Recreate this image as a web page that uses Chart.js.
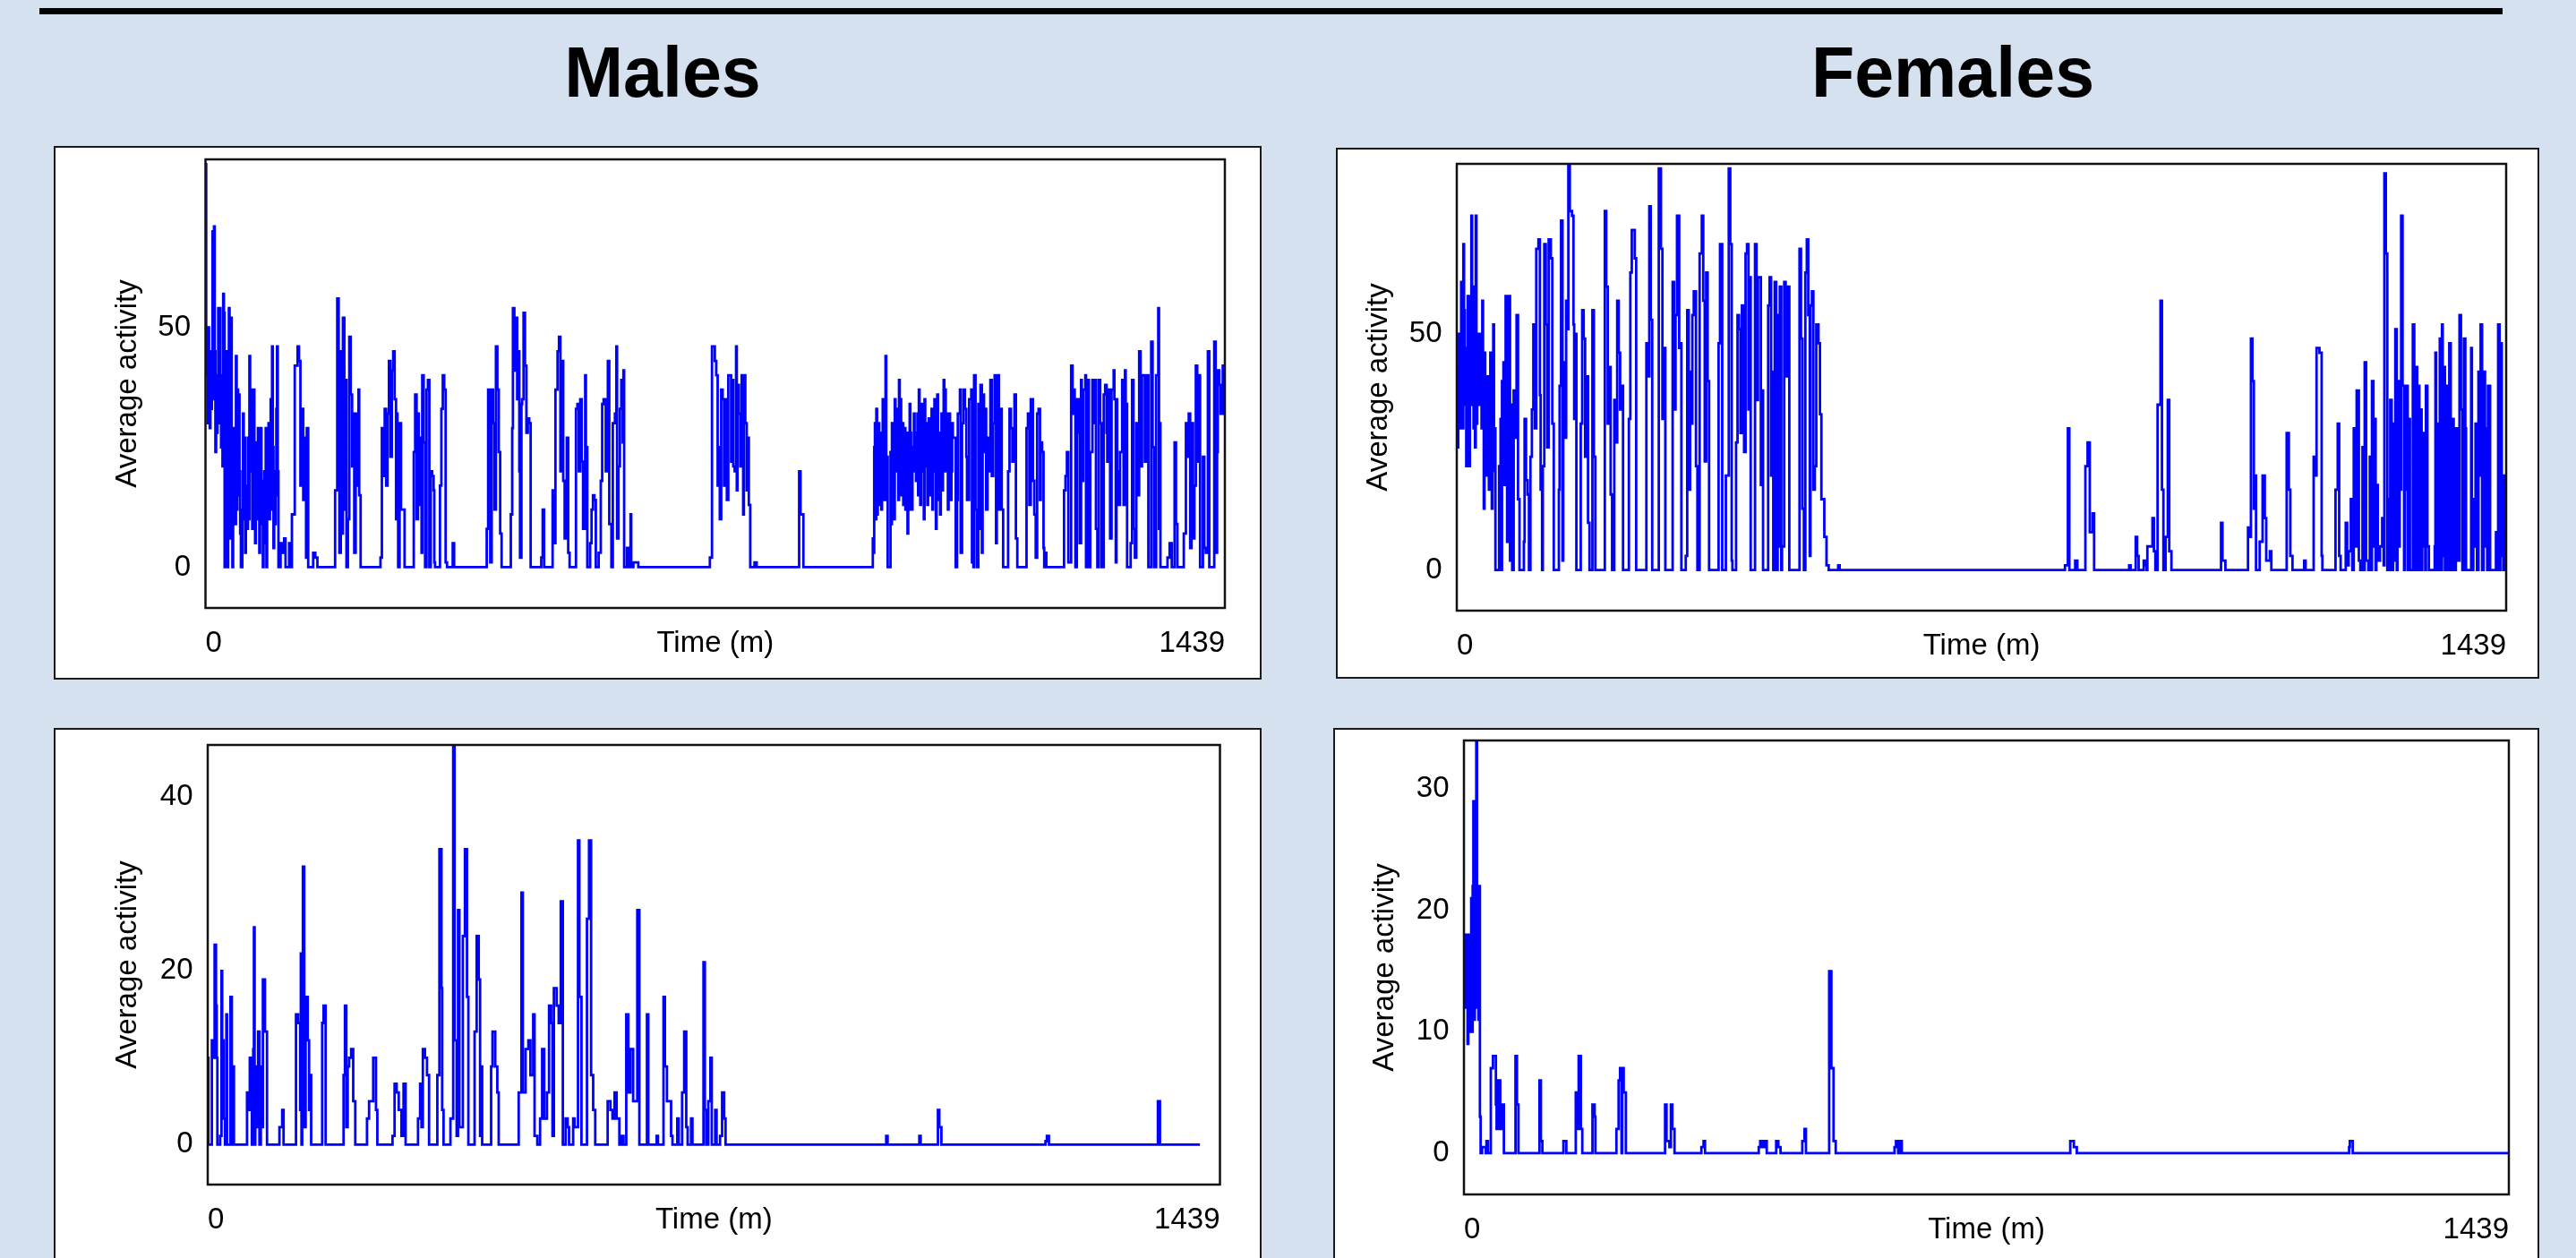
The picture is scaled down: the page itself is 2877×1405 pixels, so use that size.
<!DOCTYPE html>
<html>
<head>
<meta charset="utf-8">
<title>Average activity</title>
<script src="https://cdn.jsdelivr.net/npm/chart.js@4.4.0/dist/chart.umd.min.js"></script>
<style>
  body {
    margin: 0;
    width: 2877px;
    height: 1405px;
    overflow: hidden;
    position: relative;
    background: #d5e1ef;
    font-family: 'Liberation Sans', Arial, sans-serif;
  }
  .rule {
    position: absolute;
    left: 44px;
    top: 9px;
    width: 2751px;
    height: 7px;
    background: #000;
  }
  .heading {
    position: absolute;
    top: 41px;
    font-size: 79px;
    line-height: 79px;
    font-weight: bold;
    color: #000;
    transform: translateX(-50%);
    white-space: nowrap;
  }
  .panel {
    position: absolute;
    box-sizing: border-box;
    background: #fff;
    border: 2px solid #1a1a1a;
  }
  .panel canvas {
    position: absolute;
    left: 0;
    top: 0;
  }
</style>
</head>
<body>
<div class="rule"></div>
<div class="heading" style="left:740px">Males</div>
<div class="heading" style="left:2181px">Females</div>
<div class="panel" id="p-tl"><canvas id="c-tl"></canvas></div>
<div class="panel" id="p-tr"><canvas id="c-tr"></canvas></div>
<div class="panel" id="p-bl"><canvas id="c-bl"></canvas></div>
<div class="panel" id="p-br"><canvas id="c-br"></canvas></div>

<script>
// axis texts
const xLabels = ['0', 'Time (m)', '1439'];
const yTitle = 'Average activity';

// [minute, average activity] steps
const maleDay = [
  [0,84],[1,45],[2,40],[3,30],[4,50],[5,38],[6,29],[7,45],[8,33],[9,40],[10,70],[11,35],[12,71],[13,45],
  [14,24],[15,40],[16,28],[17,30],[18,54],[19,30],[20,54],[21,35],[22,25],[23,40],[24,21],[25,57],[26,53],
  [27,0],[28,20],[29,45],[30,25],[31,0],[32,30],[33,54],[34,20],[35,6],[36,52],[37,15],[38,0],[39,20],
  [40,29],[41,15],[42,9],[43,44],[44,12],[45,37],[46,15],[47,36],[48,20],[49,7],[50,0],[52,12],[53,32],
  [54,10],[55,27],[56,3],[57,15],[58,17],[59,8],[60,27],[61,10],[62,44],[63,20],[64,37],[65,30],[66,8],
  [67,15],[68,37],[69,20],[70,5],[71,25],[72,26],[73,10],[74,29],[75,20],[76,3],[77,12],[78,29],[79,18],
  [80,9],[81,0],[82,10],[83,20],[84,5],[85,29],[86,0],[87,15],[88,23],[89,30],[90,10],[91,20],[92,35],
  [93,12],[94,46],[95,25],[96,4],[97,20],[98,9],[99,15],[100,33],[101,46],[102,20],[103,0],
  [106,5],[109,3],[111,6],[113,0],[118,5],[120,0],[122,11],[126,42],[130,46],[132,43],[134,17],[136,33],
  [138,14],[140,27],[142,2],[143,29],[145,0],[152,3],[155,2],[158,0],
  [183,16],[186,56],[188,43],[189,3],[191,45],[192,7],[194,52],[196,12],[197,39],[199,0],[201,10],[203,48],
  [205,36],[207,21],[208,32],[210,3],[212,32],[214,17],[216,37],[217,15],[219,0],
  [247,2],[249,29],[251,19],[253,33],[255,17],[257,32],[259,43],[261,23],[263,41],[265,45],[267,35],[269,10],
  [270,32],[271,25],[272,0],[274,30],[276,12],[278,12],[281,0],
  [294,24],[296,36],[298,10],[300,32],[301,13],[303,27],[305,3],[306,40],[308,26],[310,0],[312,37],[314,39],
  [316,0],[318,20],[320,19],[322,16],[323,1],[324,0],[331,17],[333,33],[335,40],[337,37],[339,1],[341,0],
  [349,5],[351,0],
  [397,8],[399,37],[401,31],[402,1],[404,37],[406,30],[408,12],[410,46],[412,37],[414,24],[416,7],[418,0],
  [431,11],[433,29],[434,54],[436,41],[438,52],[440,35],[441,45],[443,20],[444,2],[446,34],[447,35],[449,53],
  [451,42],[453,28],[455,31],[457,30],[459,0],
  [474,2],[476,12],[478,0],[490,16],[492,5],[494,37],[497,45],[499,48],[501,20],[503,43],[505,18],[507,6],
  [510,27],[512,3],[514,0],[523,33],[525,34],[527,20],[529,35],[531,22],[533,8],[536,40],[537,25],[539,0],
  [543,5],[545,12],[547,15],[549,14],[551,0],[555,3],[558,18],[560,34],[562,35],[565,20],[568,43],[570,9],
  [573,0],[575,30],[578,32],[580,46],[581,6],[583,21],[585,33],[587,39],[589,26],[590,41],[591,0],[595,4],
  [598,0],[600,11],[601,0],[604,1],[609,1],[611,0],
  [712,2],[715,46],[719,43],[721,40],[723,17],[724,25],[726,10],[728,37],[730,35],[732,17],[734,35],[736,14],
  [738,40],[740,40],[742,22],[743,39],[745,21],[747,20],[749,46],[750,16],[751,38],[753,32],[755,21],[757,40],
  [759,11],[760,40],[762,30],[764,16],[766,27],[767,13],[769,0],[775,1],[778,0],
  [838,20],[840,11],[844,0],
  [942,6],[943,3],[944,25],[945,30],[946,10],[947,33],[948,11],[949,18],[950,30],[951,13],[952,28],[953,20],
  [954,12],[955,28],[956,35],[957,14],[958,20],[959,30],[960,44],[961,14],[962,23],[963,0],[967,24],[968,9],
  [969,30],[970,20],[971,19],[972,10],[973,35],[974,20],[975,26],[976,33],[977,24],[978,14],[979,39],
  [980,22],[981,35],[982,15],[983,28],[984,30],[985,13],[986,18],[987,29],[988,12],[989,22],[990,28],
  [991,7],[992,20],[993,12],[994,34],[995,28],[996,18],[997,12],[998,25],[999,20],[1000,32],[1001,26],
  [1002,28],[1003,18],[1004,22],[1005,32],[1006,15],[1007,37],[1008,28],[1009,13],[1010,20],[1011,34],
  [1012,28],[1013,20],[1014,10],[1015,35],[1016,28],[1017,21],[1018,30],[1019,13],[1020,20],[1021,31],
  [1022,28],[1023,15],[1024,20],[1025,33],[1026,12],[1027,25],[1028,20],[1029,35],[1030,30],[1031,8],
  [1032,20],[1033,36],[1034,14],[1035,28],[1036,24],[1037,11],[1038,20],[1039,32],[1040,16],[1041,28],
  [1042,39],[1043,20],[1044,37],[1045,30],[1046,20],[1047,32],[1048,12],[1049,25],[1050,32],[1051,22],
  [1052,14],[1053,20],[1054,30],[1055,27],[1059,0],
  [1061,14],[1062,32],[1065,37],[1066,3],[1068,30],[1070,37],[1072,33],[1074,23],[1075,14],[1078,35],
  [1081,37],[1082,1],[1084,0],[1085,40],[1087,12],[1089,0],[1091,34],[1092,8],[1094,38],[1096,3],[1097,36],
  [1099,24],[1101,33],[1102,12],[1104,27],[1106,20],[1108,39],[1110,19],[1112,30],[1114,40],[1116,5],
  [1117,33],[1119,40],[1120,12],[1122,33],[1124,12],[1126,0],[1133,20],[1135,33],[1137,29],[1139,22],
  [1142,36],[1144,6],[1146,0],[1159,29],[1161,32],[1163,13],[1165,35],[1168,18],[1170,11],[1172,2],
  [1174,32],[1176,33],[1178,14],[1179,26],[1181,24],[1183,4],[1184,0],[1185,3],[1187,0],
  [1212,16],[1214,19],[1216,24],[1218,1],[1222,42],[1224,32],[1225,37],[1227,32],[1228,0],[1230,35],
  [1233,28],[1234,5],[1236,39],[1237,18],[1239,37],[1242,40],[1243,0],[1245,39],[1247,0],[1249,24],
  [1252,39],[1253,30],[1255,39],[1257,8],[1259,0],[1261,39],[1263,30],[1265,0],[1268,36],[1270,38],
  [1272,28],[1273,22],[1275,37],[1277,6],[1279,37],[1282,41],[1283,35],[1285,1],[1286,35],[1287,20],
  [1289,13],[1291,24],[1294,39],[1296,13],[1298,41],[1299,34],[1301,0],[1306,5],[1308,39],[1310,8],
  [1312,2],[1314,30],[1316,15],[1318,45],[1320,21],[1322,40],[1324,40],[1326,22],[1328,40],[1331,0],
  [1335,47],[1337,25],[1339,0],[1342,40],[1345,54],[1346,8],[1347,30],[1348,0],[1358,2],[1361,5],[1364,0],
  [1368,26],[1370,9],[1372,0],[1381,7],[1384,30],[1386,23],[1388,32],[1390,4],[1392,30],[1394,6],[1396,17],
  [1398,42],[1400,22],[1402,40],[1404,0],[1408,23],[1410,4],[1412,3],[1415,45],[1417,0],[1422,0],[1424,47],
  [1426,3],[1428,24],[1429,41],[1431,38],[1433,32],[1436,42],[1438,32],[1439,40]
];

const femaleDay = [
  [0,43],[1,26],[2,34],[3,50],[4,43],[5,30],[6,61],[7,41],[8,30],[9,69],[10,55],[11,35],[12,47],[13,22],
  [14,40],[15,58],[16,30],[17,22],[18,58],[19,35],[20,75],[21,46],[22,60],[23,30],[24,45],[25,26],[26,75],
  [27,31],[28,45],[29,50],[30,35],[31,36],[32,45],[33,50],[34,30],[35,57],[36,35],[37,13],[38,46],[39,25],
  [40,31],[41,20],[42,41],[43,32],[44,17],[45,30],[46,46],[47,25],[48,13],[49,30],[50,52],[51,21],[52,30],
  [53,0],[58,22],[60,32],[61,0],[62,40],[64,44],[65,18],[67,58],[69,6],[71,58],[73,2],[75,35],[76,0],
  [78,38],[80,28],[82,54],[84,15],[86,0],[92,6],[93,32],[95,19],[97,16],[99,0],[101,24],[103,34],[105,52],
  [107,30],[109,68],[112,70],[114,37],[115,17],[117,0],[118,22],[120,69],[122,52],[124,26],[126,70],
  [129,66],[131,31],[133,0],[140,17],[141,39],[143,74],[145,2],[146,44],[148,28],[150,57],[151,51],
  [153,86],[155,76],[158,75],[160,52],[161,32],[163,50],[164,0],[170,31],[172,55],[174,49],[176,24],
  [178,41],[180,10],[182,0],[186,55],[188,24],[190,0],[203,76],[205,60],[207,31],[209,43],[211,16],[213,0],
  [216,36],[218,27],[220,57],[222,46],[224,34],[226,39],[228,0],[236,32],[238,63],[240,72],[244,66],
  [246,0],[260,48],[262,41],[264,77],[266,53],[268,0],[277,85],[280,68],[282,32],[284,47],[286,0],[296,61],
  [298,34],[300,54],[302,75],[305,47],[307,48],[308,0],[314,3],[316,55],[318,17],[320,42],[322,31],[323,54],
  [325,59],[328,22],[330,0],[333,67],[336,75],[338,57],[340,23],[342,63],[344,40],[346,0],[359,48],[361,69],
  [364,0],[369,20],[373,85],[375,69],[377,2],[378,0],[383,27],[385,54],[387,51],[389,29],[391,56],[394,25],
  [396,67],[398,69],[400,34],[401,62],[403,0],[409,69],[411,36],[413,62],[415,62],[417,18],[419,38],
  [420,0],[427,56],[429,62],[431,20],[432,42],[434,0],[436,61],[438,0],[440,54],[442,5],[443,60],[445,0],
  [446,5],[449,61],[451,41],[453,60],[456,0],[470,68],[472,49],[474,13],[476,0],[478,63],[480,70],[482,54],
  [484,3],[485,56],[487,59],[489,17],[491,22],[493,52],[496,48],[498,33],[500,15],[504,7],[507,1],[510,0],
  [523,1],[525,0],
  [834,1],[838,30],[840,0],[848,2],[851,0],[862,22],[865,27],[868,8],[872,12],[874,0],[922,1],[924,0],
  [931,7],[933,3],[935,0],[942,2],[944,1],[946,0],[947,5],[950,5],[954,11],[956,4],[958,0],[961,35],[965,57],
  [967,17],[969,0],[972,7],[975,36],[977,4],[980,0],[1048,10],[1050,2],[1054,0],[1085,9],[1088,7],[1089,49],
  [1091,40],[1093,13],[1094,20],[1096,0],[1101,6],[1105,20],[1108,11],[1110,2],[1115,4],[1117,0],[1138,29],
  [1141,17],[1143,3],[1146,0],[1162,2],[1164,0],[1175,24],[1177,20],[1179,47],[1183,46],[1186,3],[1187,0],
  [1205,17],[1208,31],[1210,3],[1212,0],[1219,10],[1221,1],[1223,4],[1226,15],[1228,0],[1230,30],[1232,5],
  [1234,38],[1237,2],[1239,0],[1242,26],[1244,0],[1245,44],[1247,2],[1250,0],[1252,24],[1254,0],[1255,40],
  [1257,5],[1258,32],[1260,0],[1261,18],[1263,2],[1266,5],[1269,11],[1271,1],[1272,84],[1274,67],[1276,0],
  [1277,15],[1279,0],[1280,36],[1282,0],[1284,31],[1286,2],[1287,51],[1289,0],[1290,40],[1292,5],[1293,17],
  [1295,75],[1297,39],[1299,0],[1300,17],[1302,39],[1304,0],[1305,32],[1307,0],[1311,52],[1313,0],[1315,43],
  [1317,0],[1318,39],[1320,0],[1321,34],[1323,0],[1324,5],[1326,29],[1328,0],[1329,39],[1331,5],[1333,0],
  [1341,5],[1342,46],[1343,0],[1345,31],[1346,0],[1348,49],[1349,0],[1351,52],[1352,3],[1354,43],[1355,0],
  [1357,39],[1358,0],[1360,5],[1361,48],[1363,0],[1365,32],[1367,0],[1370,30],[1372,2],[1375,54],[1377,34],
  [1379,0],[1381,49],[1383,30],[1384,0],[1391,47],[1392,0],[1394,15],[1395,5],[1397,31],[1399,0],[1401,42],
  [1402,20],[1404,52],[1406,0],[1408,42],[1410,30],[1411,5],[1413,0],[1414,39],[1417,0],[1425,8],[1427,0],
  [1428,52],[1430,0],[1431,48],[1433,3],[1435,0],[1436,20],[1438,0],[1439,20]
];

const maleNight = [
  [0,10],[1,0],[6,12],[8,10],[10,23],[12,16],[13,10],[14,0],[18,1],[20,20],[21,12],[23,3],[25,0],[27,15],
  [28,0],[33,17],[35,0],[36,9],[38,0],[57,6],[59,4],[61,10],[64,0],[66,11],[67,25],[68,0],[69,9],[71,2],
  [73,13],[75,0],[77,9],[79,2],[80,19],[83,13],[86,0],[104,2],[108,4],[110,0],[128,15],[131,14],[134,4],
  [135,22],[136,0],[137,2],[138,32],[140,2],[142,17],[145,12],[147,4],[149,8],[150,0],[166,14],[168,16],
  [171,0],[197,8],[199,16],[201,2],[203,9],[205,10],[208,11],[211,5],[214,0],[231,3],[234,5],[237,5],
  [240,10],[244,4],[246,0],[268,1],[271,7],[274,6],[277,4],[281,1],[284,7],[287,0],[305,3],[308,7],[310,2],
  [312,11],[315,10],[318,8],[321,0],[333,8],[336,34],[339,18],[340,4],[342,0],[352,3],[356,46],[358,12],
  [361,1],[363,27],[365,2],[370,24],[373,34],[376,17],[378,0],[387,13],[390,24],[393,19],[395,1],[397,9],
  [398,0],[411,9],[413,13],[417,9],[420,6],[422,0],[451,6],[455,29],[457,6],[461,11],[465,12],[468,8],
  [472,15],[474,1],[478,0],[482,3],[485,11],[488,3],[492,6],[495,16],[498,14],[500,1],[502,18],[506,16],
  [509,14],[512,28],[515,0],[519,3],[522,2],[524,0],[530,3],[532,2],[537,35],[539,17],[542,0],[550,26],
  [553,35],[556,8],[559,4],[562,0],[580,5],[584,4],[587,3],[590,6],[593,3],[597,0],[600,1],[603,0],[607,15],
  [610,6],[613,11],[617,5],[620,5],[623,27],[626,0],[637,15],[639,0],[651,1],[653,0],[661,17],[663,9],
  [666,5],[670,5],[672,1],[674,0],[681,3],[683,0],[688,6],[691,13],[694,2],[696,0],[701,3],[703,0],[719,21],
  [721,4],[723,0],[726,5],[729,10],[731,0],[736,4],[738,0],[743,1],[746,6],[749,3],[751,0],[984,1],[986,0],
  [1032,1],[1034,0],[1059,4],[1061,2],[1064,0],[1215,0.4],[1217,1],[1220,0],[1378,5],[1381,0],[1439,0]
];

const femaleNight = [
  [0,18],[1,12],[2,18],[3,12],[4,18],[5,9],[6,18],[7,10],[8,12],[9,18],[10,21],[11,10],[12,22],[13,29],
  [14,11],[15,29],[16,12],[17,34],[18,12],[19,22],[20,11],[21,22],[22,3],[23,0],[25,0.5],[30,0],[31,1],
  [33,0],[37,7],[40,8],[44,4],[45,2],[47,6],[50,2],[52,4],[55,0],[71,8],[73,4],[75,0],[104,6],[106,1],
  [108,0],[137,1],[140,1],[141,0],[154,5],[156,2],[158,8],[161,2],[163,0],[177,4],[180,3],[181,0],[210,2],
  [213,6],[215,7],[217,0],[218,7],[220,5],[223,0],[277,4],[279,1],[283,0.5],[285,4],[287,2],[290,0],
  [327,0.5],[330,1],[332,0],[406,0.5],[408,1],[411,0.5],[414,1],[417,0],[430,1],[433,0.5],[436,0],[466,1],
  [469,2],[471,0],[503,15],[506,7],[509,1],[512,0],[593,0.5],[595,1],[598,0],[600,1],[603,0],[835,1],
  [840,0.5],[844,0],[1219,0.5],[1220,1],[1224,0],[1439,0]
];

const maleDayTicks = [0, 50];
const femaleDayTicks = [0, 50];
const maleNightTicks = [0, 20, 40];
const femaleNightTicks = [0, 10, 20, 30];

// page geometry: box = [left, top, width, height], plot = [left, top, right, bottom]
const BORDER = 2;
const X_AXIS_H = 70;
const FONT = { family: "'Liberation Sans', Arial, sans-serif", size: 33 };
const panels = [
  { id: 'tl', data: maleDay, ticks: maleDayTicks, yMax: 85, xMax: 1439,
    box: [60, 163, 1349, 596], plot: [229.5, 178, 1368, 679], titleX: 143 },
  { id: 'tr', data: femaleDay, ticks: femaleDayTicks, yMax: 86, xMax: 1439,
    box: [1492, 165, 1344, 593], plot: [1627, 183, 2799, 682], titleX: 1540 },
  { id: 'bl', data: maleNight, ticks: maleNightTicks, yMax: 46, xMax: 1468,
    box: [60, 813, 1349, 600], plot: [232, 832, 1362.5, 1323], titleX: 143 },
  { id: 'br', data: femaleNight, ticks: femaleNightTicks, yMax: 34, xMax: 1439,
    box: [1489, 813, 1347, 600], plot: [1635, 827, 2802, 1334], titleX: 1547 }
];

const frame = {
  id: 'frame',
  afterDatasetsDraw(chart) {
    const { ctx, chartArea: a } = chart;
    ctx.save();
    ctx.strokeStyle = '#111';
    ctx.lineWidth = 2.5;
    ctx.strokeRect(a.left, a.top, a.right - a.left, a.bottom - a.top);
    ctx.restore();
  }
};

// no extra room for overhanging tick labels, the plot box is placed by hand
function noOverhang(axis) {
  axis.paddingLeft = 0;
  axis.paddingRight = 0;
  axis.paddingTop = 0;
  axis.paddingBottom = 0;
}

function drawPanel(p) {
  const wrap = document.getElementById('p-' + p.id);
  const [bx, by, bw, bh] = p.box;
  wrap.style.left = bx + 'px';
  wrap.style.top = by + 'px';
  wrap.style.width = bw + 'px';
  wrap.style.height = bh + 'px';

  const cx = bx + BORDER, cy = by + BORDER;
  const cw = bw - 2 * BORDER, ch = bh - 2 * BORDER;
  const canvas = document.getElementById('c-' + p.id);
  canvas.width = cw;
  canvas.height = ch;
  canvas.style.width = cw + 'px';
  canvas.style.height = ch + 'px';

  const [pl, pt, pr, pb] = p.plot;
  const lineH = FONT.size * 1.2;

  new Chart(canvas, {
    type: 'line',
    data: {
      datasets: [{
        data: p.data.map(([x, y]) => ({ x, y })),
        borderColor: '#0000ff',
        borderWidth: 2.8,
        stepped: true,
        pointRadius: 0,
        fill: false
      }]
    },
    options: {
      responsive: false,
      animation: false,
      devicePixelRatio: 1,
      layout: { padding: { left: 0, top: pt - cy, right: cx + cw - pr, bottom: cy + ch - pb - X_AXIS_H } },
      plugins: { legend: { display: false }, tooltip: { enabled: false } },
      scales: {
        x: {
          type: 'linear',
          min: 0,
          max: p.xMax,
          grid: { display: false, drawTicks: false },
          border: { display: false },
          afterBuildTicks: (axis) => { axis.ticks = [0, p.xMax / 2, p.xMax].map(v => ({ value: v })); },
          afterFit: (axis) => { axis.height = X_AXIS_H; noOverhang(axis); },
          ticks: {
            autoSkip: false, maxRotation: 0, minRotation: 0, align: 'inner',
            padding: 20, color: '#000', font: FONT,
            callback: (v, i) => xLabels[i]
          }
        },
        y: {
          min: -0.1 * p.yMax,
          max: p.yMax,
          grid: { display: false, drawTicks: false },
          border: { display: false },
          afterBuildTicks: (axis) => { axis.ticks = p.ticks.map(v => ({ value: v })); },
          afterFit: (axis) => { axis.width = pl - cx; noOverhang(axis); },
          ticks: { padding: 16.5, color: '#000', font: FONT, callback: (v) => String(v) },
          title: {
            display: true, text: yTitle, color: '#000', font: FONT,
            padding: { top: p.titleX - cx - lineH / 2, bottom: 0 }
          }
        }
      }
    },
    plugins: [frame]
  });
}

panels.forEach(drawPanel);
</script>
</body>
</html>
